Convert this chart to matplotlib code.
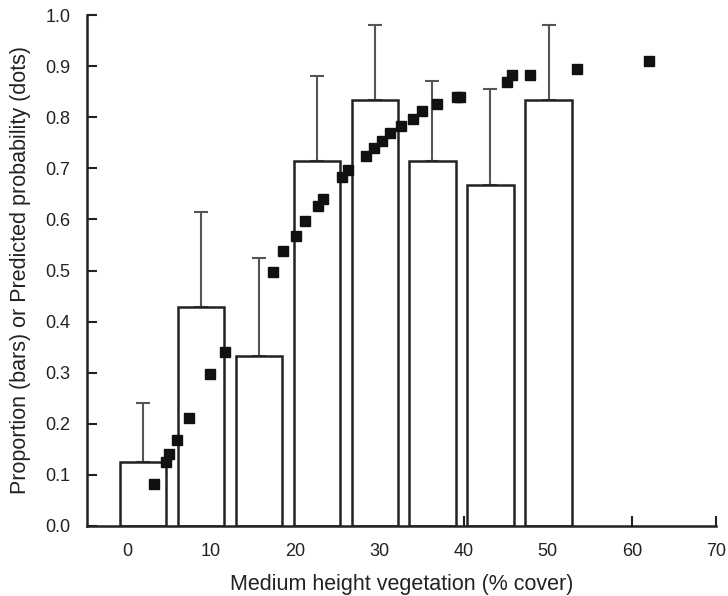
import matplotlib
matplotlib.use("Agg")
import matplotlib.pyplot as plt

plt.rcParams['font.family'] = ['Liberation Sans', 'DejaVu Sans']

# observed proportions per cover class (bars) with upper error
bar_centers = [1.9, 8.8, 15.7, 22.6, 29.5, 36.3, 43.2, 50.1]
bar_props = [0.125, 0.429, 0.333, 0.714, 0.833, 0.714, 0.667, 0.833]
bar_upper = [0.24, 0.615, 0.525, 0.88, 0.98, 0.87, 0.855, 0.98]

# logistic model predictions (dots)
pred_x = [3.2, 4.6, 5.0, 6.0, 7.4, 9.9, 11.6, 17.3, 18.6, 20.1, 21.1, 22.7,
          23.3, 25.6, 26.3, 28.4, 29.4, 30.3, 31.2, 32.6, 34.0, 35.1, 36.8,
          39.2, 39.6, 45.2, 45.8, 47.9, 53.5, 62.0]
pred_y = [0.083, 0.126, 0.141, 0.169, 0.211, 0.297, 0.340, 0.497, 0.539, 0.568,
          0.597, 0.626, 0.639, 0.683, 0.697, 0.725, 0.740, 0.754, 0.769, 0.783,
          0.797, 0.812, 0.826, 0.839, 0.839, 0.868, 0.883, 0.883, 0.895, 0.910]

xticks = [0, 10, 20, 30, 40, 50, 60, 70]
yticks = [0.0, 0.1, 0.2, 0.3, 0.4, 0.5, 0.6, 0.7, 0.8, 0.9, 1.0]

fig = plt.figure(figsize=(7.28, 5.96), dpi=100)
ax = fig.add_axes([87 / 728, 70 / 596, (716 - 87) / 728, (526 - 15) / 596])

err = [u - p for u, p in zip(bar_upper, bar_props)]
ax.errorbar(bar_centers, bar_props, yerr=[[0] * len(err), err], fmt='none',
            ecolor='#555555', elinewidth=1.5, capsize=5, capthick=1.5, zorder=1)
ax.bar(bar_centers, bar_props, width=5.5, facecolor='white', edgecolor='#222222',
       linewidth=1.8, zorder=2)
ax.plot(pred_x, pred_y, 's', color='#111111', markersize=7.5, zorder=3)

ax.set_xlim(-4.75, 70)
ax.set_ylim(0, 1.0)
ax.set_xticks(xticks)
ax.set_yticks(yticks)
ax.set_yticklabels([f"{v:.1f}" for v in yticks])
ax.tick_params(direction='in', length=7, width=1.5, labelsize=13,
               colors='#222222')
ax.tick_params(axis='x', pad=12)
ax.tick_params(axis='y', pad=12)

for side in ['top', 'right']:
    ax.spines[side].set_visible(False)
for side in ['left', 'bottom']:
    ax.spines[side].set_linewidth(1.8)
    ax.spines[side].set_color('#222222')

ax.set_xlabel("Medium height vegetation (% cover)", fontsize=15.5, color='#222222',
              labelpad=10)
ax.set_ylabel("Proportion (bars) or Predicted probability (dots)", fontsize=15.5,
              color='#222222', labelpad=10)

fig.savefig("out.png", dpi=100)
